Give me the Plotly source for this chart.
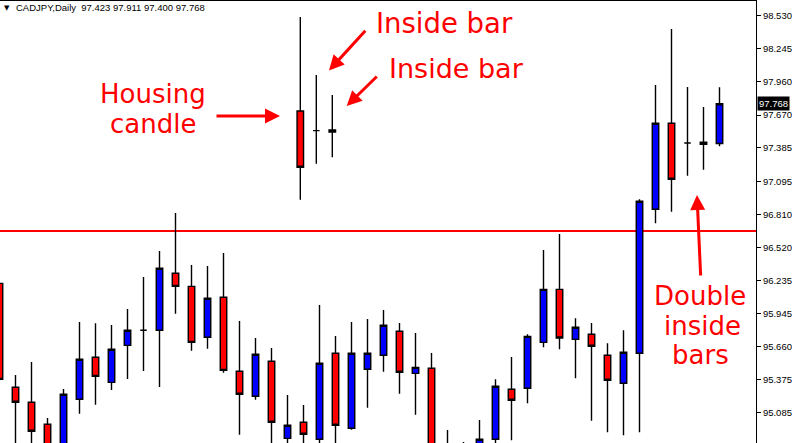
import plotly.graph_objects as go

# ---- main daily candles (CADJPY) ----
idx = list(range(46))
opens = [96.210, 95.308, 95.178, 94.987, 94.750, 95.204, 95.568, 95.351, 95.672, 95.803,
         95.803, 96.297, 96.184, 95.742, 96.089, 95.447, 95.230, 95.534, 94.865, 95.004,
         94.857, 95.603, 94.952, 95.464, 95.586, 95.794, 95.429, 95.473, 94.800, 94.700,
         94.700, 94.857, 95.291, 95.299, 95.698, 96.158, 95.724, 95.768, 95.586, 95.343,
         95.603, 96.853, 97.599, 97.428, 97.434, 97.423]
highs = [96.215, 95.415, 95.527, 95.041, 95.293, 95.875, 95.863, 95.849, 95.987, 96.265,
         96.491, 96.820, 96.369, 96.361, 96.473, 95.883, 95.736, 95.649, 95.241, 95.154,
         96.022, 95.753, 95.875, 95.901, 95.979, 95.866, 95.779, 95.606, 94.937, 94.833,
         95.024, 95.377, 95.571, 95.768, 96.499, 96.638, 95.907, 95.866, 95.690, 95.803,
         96.939, 97.931, 98.417, 97.914, 97.740, 97.911]
lows = [95.370, 94.780, 94.700, 94.700, 94.700, 95.079, 95.157, 95.284, 95.380, 95.449,
        95.311, 95.947, 95.626, 95.643, 95.435, 94.897, 95.200, 94.750, 94.750, 94.750,
        94.750, 94.750, 94.940, 95.131, 95.443, 95.252, 95.070, 94.700, 94.650, 94.650,
        94.650, 94.750, 94.848, 95.169, 95.655, 95.638, 95.386, 95.018, 94.917, 94.891,
        94.917, 96.731, 96.832, 97.144, 97.196, 97.400]
closes = [95.377, 95.178, 94.926, 94.750, 95.247, 95.551, 95.403, 95.638, 95.803, 95.803,
          96.341, 96.184, 95.698, 96.080, 95.455, 95.247, 95.594, 95.004, 94.978, 94.900,
          95.516, 94.978, 95.603, 95.603, 95.846, 95.438, 95.481, 94.760, 94.720, 94.780,
          94.857, 95.317, 95.195, 95.750, 96.158, 95.736, 95.829, 95.664, 95.369, 95.612,
          96.922, 97.599, 97.113, 97.428, 97.417, 97.768]

# ---- pasted inset: housing candle + two inside bars ----
inset_x = [18.8, 19.8, 20.8]
inset_open = [97.706, 97.535, 97.540]
inset_high = [98.521, 98.018, 97.844]
inset_low = [96.936, 97.248, 97.304]
inset_close = [97.217, 97.535, 97.523]

level_price = 96.664
last_price = 97.768
title_text = "CADJPY,Daily  97.423 97.911 97.400 97.768"

tick_vals = [98.530, 98.245, 97.960, 97.670, 97.385, 97.095, 96.810, 96.520,
             96.235, 95.945, 95.660, 95.375, 95.085]
tick_text = [f"{v:.3f}" for v in tick_vals]

X_RANGE = [0.031, 47.281]
Y_RANGE = [94.8245, 98.660]

BLUE = "#0000FF"
RED = "#FF0000"
LW = 1.4

def candle(x, o, h, l, c, xaxis):
    return go.Candlestick(
        x=x, open=o, high=h, low=l, close=c, xaxis=xaxis, yaxis="y",
        increasing=dict(fillcolor=BLUE, line=dict(color="black", width=LW)),
        decreasing=dict(fillcolor=RED, line=dict(color="black", width=LW)),
        whiskerwidth=0, showlegend=False, hoverinfo="skip",
    )

fig = go.Figure()
fig.add_trace(candle(idx, opens, highs, lows, closes, "x"))
fig.add_trace(candle(inset_x, inset_open, inset_high, inset_low, inset_close, "x2"))

# plot area geometry in pixels (for annotation placement)
PW, PH, PT = 756, 442, 1
def px(x):
    return x / PW
def py(y):
    return 1 - (y - PT) / PH

fig.add_shape(type="line", xref="paper", x0=0, x1=1, yref="y",
              y0=level_price, y1=level_price, line=dict(color=RED, width=2),
              layer="below")

ann = []
for txt, cx, cy, fs in [("Housing", 153, 94, 26), ("candle", 153, 124, 26),
                        ("Inside bar", 444, 23, 27.5), ("Inside bar", 456, 68, 27),
                        ("Double", 700, 296, 26), ("inside", 702, 326, 26),
                        ("bars", 700, 355, 26)]:
    ann.append(dict(text=txt, x=px(cx), y=py(cy), xref="paper", yref="paper",
                    xanchor="center", yanchor="middle", showarrow=False,
                    font=dict(family="DejaVu Sans", size=fs, color=RED)))

for tip, tail in [((280, 116), (215, 116)), ((329, 70.5), (366.7, 29.3)),
                  ((346.7, 106), (378.3, 75)), ((697, 195), (700.7, 277))]:
    ann.append(dict(text="", x=px(tip[0]), y=py(tip[1]), xref="paper", yref="paper",
                    ax=tail[0] - tip[0], ay=tail[1] - tip[1], showarrow=True,
                    arrowhead=2, arrowsize=1, arrowwidth=3, arrowcolor=RED, standoff=0))

small = dict(family="Liberation Sans", size=9.5, color="black")
ann.append(dict(text="▼", x=px(2), y=py(8), xref="paper", yref="paper",
                xanchor="left", yanchor="middle", showarrow=False,
                font=dict(family="DejaVu Sans", size=7, color="black")))
ann.append(dict(text=title_text, x=px(14), y=py(8), xref="paper", yref="paper",
                xanchor="left", yanchor="middle", showarrow=False, font=small))
ann.append(dict(text=f"{last_price:.3f}", x=1, y=last_price, xref="paper", yref="y",
                xanchor="left", yanchor="middle", xshift=1, showarrow=False,
                bgcolor="black", borderpad=1,
                font=dict(family="Liberation Sans", size=9.5, color="white")))

fig.update_layout(
    width=792, height=443,
    margin=dict(l=0, r=792 - PW, t=PT, b=0),
    paper_bgcolor="white", plot_bgcolor="white",
    boxgap=0.42,
    annotations=ann,
    xaxis=dict(range=X_RANGE, side="top", showline=True, linecolor="black", linewidth=1,
               showgrid=False, zeroline=False, showticklabels=False, ticks="",
               rangeslider=dict(visible=False), fixedrange=True),
    xaxis2=dict(range=X_RANGE, overlaying="x", visible=False,
                rangeslider=dict(visible=False)),
    yaxis=dict(range=Y_RANGE, side="right", showline=True, linecolor="black", linewidth=1,
               showgrid=False, zeroline=False, ticks="outside", ticklen=4,
               tickcolor="black", tickvals=tick_vals, ticktext=tick_text,
               tickfont=small),
)

fig.write_html("out.html", config={"displayModeBar": False},
               post_script="document.body.style.margin='0';")
